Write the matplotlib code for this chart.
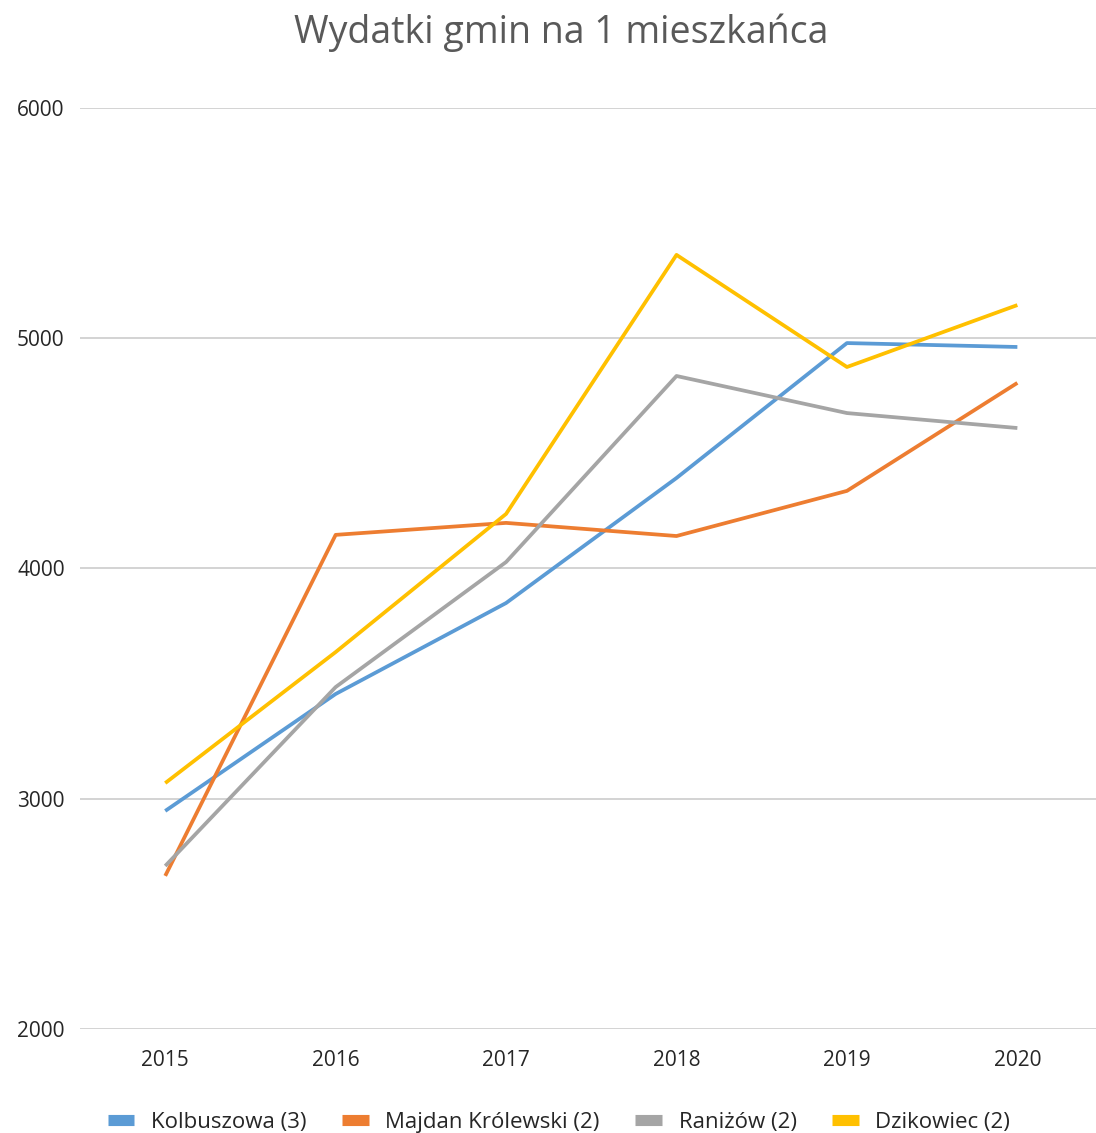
import matplotlib.pyplot as plt
import numpy as np

lata = ['2015', '2016', '2017', '2018', '2019', '2020']
kolbuszowa = [2947, 3455, 3850, 4393, 4979, 4962]
majdan = [2665, 4146, 4198, 4141, 4337, 4806]
ranizow = [2708, 3485, 4028, 4836, 4675, 4610]
dzikowiec = [3068, 3637, 4237, 5362, 4875, 5144]

serie = [
    ('Kolbuszowa (3)', kolbuszowa, '#5B9BD5'),
    ('Majdan Królewski (2)', majdan, '#ED7D31'),
    ('Raniżów (2)', ranizow, '#A5A5A5'),
    ('Dzikowiec (2)', dzikowiec, '#FFC000'),
]

plt.rcParams['font.family'] = ['Open Sans', 'DejaVu Sans']

fig = plt.figure(figsize=(10.96, 11.33), dpi=100)
ax = fig.add_axes([0.073, 0.0918, 0.933, 0.8129])

x = np.arange(len(lata))
for nazwa, wartosci, kolor in serie:
    ax.plot(x, wartosci, color=kolor, lw=2.7, label=nazwa, solid_capstyle='butt')

ax.set_xlim(-0.5, 5.5)
ax.set_ylim(2000, 6000)
ax.set_yticks([2000, 3000, 4000, 5000, 6000])
ax.set_xticks(x)
ax.set_xticklabels(lata)
ax.grid(axis='y', color='#d0d0d0', lw=1.3)
ax.set_axisbelow(True)
for s in ax.spines.values():
    s.set_visible(False)
ax.tick_params(length=0, labelsize=15, colors='#262626', pad=11)
ax.tick_params(axis='x', pad=15)

fig.text(0.512, 0.971, 'Wydatki gmin na 1 mieszkańca', ha='center', va='center',
         fontsize=27, color='#595959')

fig.legend(loc='center', bbox_to_anchor=(0.51, 0.0095), ncol=4, frameon=False,
           fontsize=16, handlelength=1.2, columnspacing=1.6, handletextpad=0.75,
           labelcolor='#262626')
for h in fig.legends[0].legend_handles:
    h.set_linewidth(8)

fig.savefig('out.png', dpi=100)
